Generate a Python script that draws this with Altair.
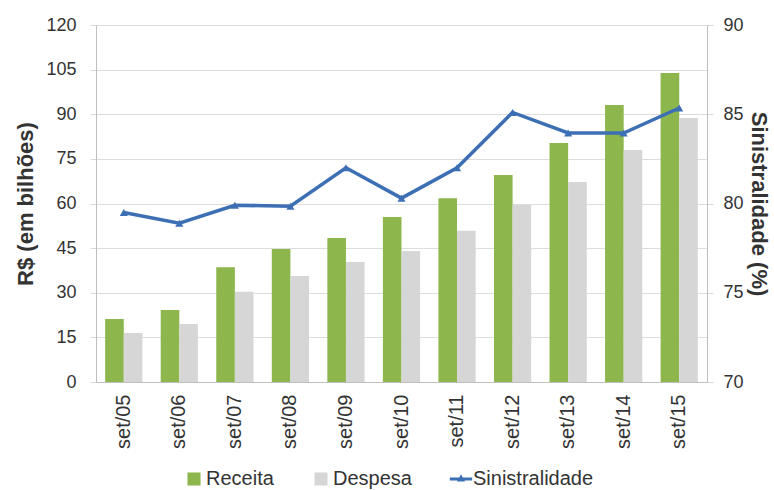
import altair as alt
import pandas as pd

cats = ["set/05", "set/06", "set/07", "set/08", "set/09", "set/10",
        "set/11", "set/12", "set/13", "set/14", "set/15"]
receita = [21.2, 24.2, 38.6, 44.7, 48.4, 55.5, 61.8, 69.6, 80.3, 93.1, 103.9]
despesa = [16.5, 19.5, 30.3, 35.6, 40.3, 44.0, 50.8, 59.5, 67.2, 78.0, 88.7]
sinistralidade = [79.5, 78.9, 79.9, 79.85, 82.0, 80.3, 82.0, 85.1, 83.95, 83.95, 85.35]

series_names = ["Receita", "Despesa", "Sinistralidade"]
series_colors = ["#8DB64C", "#D6D6D6", "#3D6FB5"]

bar_rows = []
for c, r, d in zip(cats, receita, despesa):
    bar_rows.append({"cat": c, "series": "Receita", "value": r})
    bar_rows.append({"cat": c, "series": "Despesa", "value": d})
df_bar = pd.DataFrame(bar_rows)
df_line = pd.DataFrame({"cat": cats, "series": "Sinistralidade", "value": sinistralidade})

FONT = "Liberation Sans"
TXT = "#333333"

color_scale = alt.Scale(domain=series_names, range=series_colors)
legend = alt.Legend(
    title=None,
    orient="none",
    legendX=88,
    legendY=444,
    direction="horizontal",
    labelFont=FONT,
    labelFontSize=20,
    labelColor=TXT,
    symbolType={"expr": "datum.label === 'Sinistralidade' ? 'M-1,-0.13L1,-0.13L1,0.13L-1,0.13Z M0,-0.42L0.36,0.22L-0.36,0.22Z' : 'square'"},
    symbolSize={"expr": "datum.label === 'Sinistralidade' ? 500 : 170"},
    symbolStrokeWidth=0,
    symbolOpacity=1,
    columnPadding=37,
    labelOffset=2,
)

x_enc = alt.X(
    "cat:N",
    sort=cats,
    scale=alt.Scale(paddingInner=0.33, paddingOuter=0.165),
    axis=alt.Axis(
        title=None, labelAngle=-90, labelFont=FONT, labelFontSize=20, labelColor=TXT,
        ticks=False, labelPadding=12, domainColor="#BFBFBF", grid=False,
    ),
)

bars = alt.Chart(df_bar).mark_bar().encode(
    x=x_enc,
    xOffset=alt.XOffset("series:N", sort=["Receita", "Despesa"], scale=alt.Scale(paddingInner=0, paddingOuter=0)),
    y=alt.Y(
        "value:Q",
        scale=alt.Scale(domain=[0, 120], nice=False, zero=True),
        axis=alt.Axis(
            orient="left", values=list(range(0, 121, 15)), title="R$ (em bilhões)",
            titleFont=FONT, titleFontSize=22, titleFontWeight="bold", titleColor=TXT,
            titlePadding=8, labelFont=FONT, labelFontSize=18, labelColor=TXT,
            tickSize=6, tickColor="#D9D9D9", labelPadding=14, domainColor="#BFBFBF",
            grid=True, gridColor="#DDDDDD",
        ),
    ),
    color=alt.Color("series:N", scale=color_scale, legend=legend),
)

line = alt.Chart(df_line).mark_line(
    strokeWidth=3.5,
    point=alt.OverlayMarkDef(shape="triangle-up", size=65, filled=True),
).encode(
    x=alt.X("cat:N", sort=cats),
    y=alt.Y(
        "value:Q",
        scale=alt.Scale(domain=[70, 90], nice=False, zero=False),
        axis=alt.Axis(
            orient="right", values=[70, 75, 80, 85, 90], title="Sinistralidade (%)",
            titleFont=FONT, titleFontSize=22, titleFontWeight="bold", titleColor=TXT,
            titlePadding=3, labelFont=FONT, labelFontSize=18, labelColor=TXT,
            tickSize=6, tickColor="#D9D9D9", labelPadding=10, domainColor="#BFBFBF",
            grid=False,
        ),
    ),
    color=alt.Color("series:N", scale=color_scale, legend=legend),
)

chart = (
    alt.layer(bars, line)
    .resolve_scale(y="independent")
    .properties(
        width=611,
        height=357,
        autosize=alt.AutoSizeParams(type="none"),
        padding={"left": 96, "top": 25, "right": 67, "bottom": 108},
        background="white",
    )
    .configure_view(stroke=None)
)

chart.save("out.html", embed_options={"renderer": "svg", "actions": False})
